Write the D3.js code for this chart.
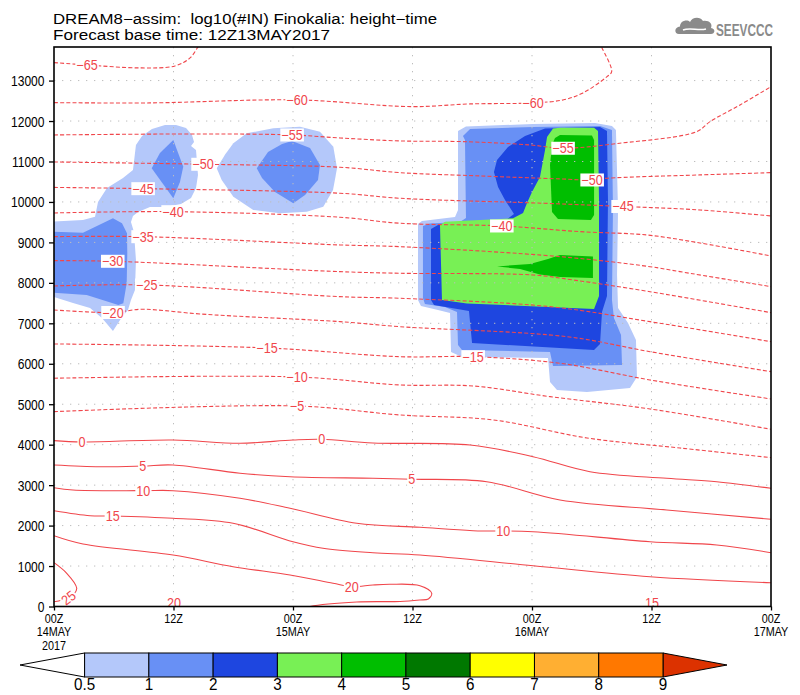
<!DOCTYPE html>
<html><head><meta charset="utf-8">
<script src="https://cdn.jsdelivr.net/npm/d3@7"></script>
<style>body{margin:0;background:#fff}svg{display:block;font-family:"Liberation Sans",Arial,sans-serif}</style>
</head><body><svg id="c" width="800" height="695"></svg>
<script>
// ---------------- data ----------------
const hourTicks = [0, 12, 24, 36, 48, 60, 72];
const hourTickLabels = [["00Z","14MAY","2017"],["12Z"],["00Z","15MAY"],["12Z"],["00Z","16MAY"],["12Z"],["00Z","17MAY"]];
const heightTicks = [0,1000,2000,3000,4000,5000,6000,7000,8000,9000,10000,11000,12000,13000];
const shadeLevels = [0.5, 1, 2, 3, 4, 5, 6, 7, 8, 9];
const shadeColors = ["#b4c8fa","#6890f5","#1e46e0","#78f055","#00be00","#007800","#ffff00","#ffaf32","#ff7800","#dc3200"];

// isotherm (temperature, degC) : [hour, height m]
const isotherms = [
 [-65, [[0,13444],[3.31,13387],[8.64,13313],[12.15,13362],[13.66,13560],[14.46,13832],[14.8,13950]]],
 [-60, [[0,12455],[9.64,12448],[24.4,12522],[35.92,12356],[41.78,12423],[48.1,12448],[51.11,12522],[53.12,12695],[55.53,13098],[56.0,13221],[55.0,13825],[54.8,13950]]],
 [-55, [[0,11656],[14.66,11681],[23.9,11656],[28.72,11582],[34.75,11508],[41.07,11491],[47.8,11409],[51.11,11328],[56.8,11451],[64.54,11738],[65.88,11985],[68.89,12398],[72,12850]]],
 [-50, [[0,10989],[14.96,10932],[28.72,10858],[34.75,10724],[42.78,10643],[50.81,10569],[54.03,10544],[55.53,10586],[64.87,10668],[72,10724]]],
 [-45, [[0,10359],[8.94,10329],[28.72,10215],[34.75,10091],[49.1,9968],[57.14,9889],[64.87,9802],[72,9654]]],
 [-40, [[0,9728],[11.95,9760],[28.72,9622],[34.75,9473],[44.96,9407],[52.82,9266],[59.52,9184],[64.87,8986],[72,8665]]],
 [-35, [[0,9142],[8.94,9142],[28.72,8937],[34.75,8895],[50.81,8648],[59.85,8400],[62.86,8277],[72,7906]]],
 [-30, [[0,8549],[5.89,8534],[28.72,8277],[34.75,8237],[48.1,8195],[52.12,8072],[59.85,7782],[72,7263]]],
 [-25, [[0,7923],[9.31,7948],[28.72,7659],[34.75,7619],[49.81,7412],[59.85,7041],[72,6546]]],
 [-20, [[0,7330],[5.92,7268],[8.64,7347],[10.34,7330],[14.66,7231],[28.72,7041],[34.75,6917],[51.48,6670],[59.85,6299],[72,5805]]],
 [-15, [[0,6490],[21.39,6391],[34.75,6175],[42.08,6175],[50.81,6012],[59.85,5600],[72,5130]]],
 [-10, [[0,5642],[24.4,5674],[34.75,5476],[42.08,5451],[49.81,5187],[59.85,4883],[72,4381]]],
 [-5,  [[0,4816],[24.4,4957],[34.75,4734],[44.11,4611],[53.52,4166],[62.86,3918],[72,3679]]],
 [0,   [[0,4099],[2.81,4067],[11.95,4116],[18.68,4035],[24.0,4116],[26.88,4133],[32.03,4042],[41.78,3993],[48.1,3703],[53.82,3332],[61.53,3169],[66.55,3085],[72,2922]]],
 [5,   [[0,3498],[4.62,3456],[8.9,3473],[11.95,3498],[18.68,3293],[23.7,3209],[32.03,3169],[35.92,3145],[43.45,3085],[50.81,2633],[61.53,2386],[72,2156]]],
 [10,  [[0,2937],[1.91,2880],[8.97,2863],[11.95,2863],[18.68,2675],[23.7,2428],[30.4,2057],[36.75,1958],[42.08,1874],[48.1,1849],[59.85,1602],[66.55,1520],[72,1330]]],
 [15,  [[0,2368],[3.62,2245],[5.89,2237],[11.95,2180],[17.98,2057],[24.0,1602],[27.01,1439],[32.03,1330],[36.75,1273],[48.1,1009],[59.85,737],[72,588]]],
 [20,  [[0,1750],[2.91,1545],[11.95,1273],[17.98,984],[23.7,779],[28.02,574],[29.9,489],[32.03,532],[33.74,549],[36.75,514],[37.93,326],[37.59,185],[36.75,161],[34.75,124],[30.4,111],[25.71,0],[24.7,-80]]],
 [25,  [[0,1083],[1.28,821],[2.28,457],[2.01,309],[0.8,161],[0,119]]]
];

// contour labels : [temperature, hour, height m, rotation]
const isoLabels = [
 [-65,3.31,13387,0],[-60,24.4,12522,0],[-60,48.1,12448,0],[-55,23.9,11656,0],[-55,51.11,11328,0],
 [-50,14.96,10932,0],[-50,54.03,10544,0],[-45,8.94,10329,0],[-45,57.14,9889,0],[-40,11.95,9760,0],
 [-40,44.96,9407,0],[-35,8.94,9142,0],[-30,5.89,8534,0],[-25,9.31,7948,0],[-20,5.92,7268,0],
 [-15,21.39,6391,0],[-15,42.08,6175,0],[-10,24.4,5674,0],[-5,24.4,4957,0],[0,2.81,4067,0],
 [0,26.88,4133,0],[5,8.9,3473,0],[5,35.92,3145,0],[10,8.97,2863,0],[10,45.12,1874,0],
 [15,5.89,2237,0],[20,29.9,489,0],[25,1.44,215,-38],[20,12.05,100,0],[15,60.05,100,0]
];

// log10(#IN) shaded regions : [lower bound, polygon of [hour, height m]]
const inRegions = [
 [0.5, [[0,9514],[2.91,9556],[4.12,9637],[4.42,10001],[5.32,10347],[6.93,10594],[7.93,10792],[8.23,11410],[8.84,11632],[9.84,11805],[11.15,11904],[12.25,11904],[13.26,11830],[13.86,11657],[14.06,11484],[13.76,11385],[14.26,11286],[14.46,10668],[14.26,10347],[13.76,10100],[12.75,9951],[11.15,9877],[9.64,9877],[8.44,9753],[7.93,9655],[7.73,9506],[8.03,9259],[8.23,8567],[8.13,7825],[7.73,7578],[7.43,7331],[6.83,7158],[5.92,6812],[4.82,7133],[3.62,7380],[1.91,7503],[0,7652]]],
 [1,   [[0,9266],[2.91,9241],[5.92,9597],[6.83,9473],[7.33,9226],[7.36,8732],[7.3,7990],[6.96,7496],[6.46,7454],[3.28,7701],[0,7758]]],
 [1,   [[11.98,11533],[12.98,10872],[12.65,10494],[11.98,10091],[9.81,10832],[10.64,11211]]],
 [0.5, [[16.34,10832],[17.2,11180],[18.01,11450],[19.35,11697],[22.02,11821],[24.7,11861],[26.71,11737],[28.05,11366],[28.42,10832],[28.02,10296],[27.04,9884],[25.38,9760],[22.69,9720],[20.01,9802],[18.01,10131],[16.84,10544]]],
 [1,   [[20.36,10832],[21.49,11236],[22.9,11434],[23.9,11508],[25.71,11335],[26.71,10915],[26.51,10544],[25.21,10173],[24.03,9967],[22.19,10247],[20.89,10594]]],
 [0.5, [[40.57,11755],[41.37,11866],[48.1,11928],[54.33,11953],[56.03,11879],[56.43,11780],[56.64,9802],[56.54,8196],[56.64,7380],[57.64,7009],[58.44,6589],[58.54,5674],[57.84,5402],[53.52,5303],[50.51,5353],[49.81,5550],[49.61,6143],[40.97,6168],[39.87,6292],[39.77,7256],[38.56,7330],[36.85,7429],[36.55,7577],[36.55,9456],[36.95,9531],[40.27,9629],[40.57,9802]]],
 [1,   [[41.07,11632],[41.78,11805],[48.1,11854],[54.83,11879],[56.03,11780],[56.13,9802],[56.03,7577],[56.23,7133],[56.94,6712],[57.04,5970],[50.11,5946],[49.81,6292],[40.97,6341],[40.57,6465],[40.47,7281],[39.26,7404],[37.25,7478],[37.05,7627],[37.05,9407],[37.76,9469],[40.77,9506],[41.37,9605],[41.27,11533]]],
 [2,   [[44.18,10742],[44.49,11039],[45.59,11360],[47.3,11632],[49.31,11817],[54.83,11854],[55.53,11755],[55.63,10050],[55.53,7676],[55.03,7281],[54.83,6490],[54.23,6341],[41.98,6514],[41.67,7305],[38.16,7454],[37.86,7577],[37.86,9333],[38.56,9432],[45.29,9531],[46.19,9704],[45.29,10050],[44.59,10371]]],
 [3,   [[50.11,11817],[50.81,11834],[54.23,11834],[54.63,11755],[54.73,10050],[54.73,7676],[54.23,7355],[41.47,7491],[38.96,7577],[38.76,9432],[39.26,9513],[46.09,9597],[47.1,9728],[47.5,9976],[48.0,10248],[48.8,10619],[49.31,11286],[49.51,11607]]],
 [4,   [[50.81,11656],[54.02,11644],[54.23,11533],[54.23,9679],[53.92,9555],[50.61,9580],[50.01,9753],[49.81,10915],[50.01,11409],[50.31,11582]]],
 [4,   [[44.49,8406],[47.8,8468],[49.61,8591],[50.81,8690],[54.12,8653],[54.12,8121],[50.81,8146],[48.8,8208],[46.8,8344]]]
];

// ---------------- drawing ----------------
const svg = d3.select("#c");
const L = 54, R = 771, T = 47, B = 606.5;
const x = d3.scaleLinear().domain([0, 72]).range([L, R]);
const y = d3.scaleLinear().domain([0, 13830]).range([B, T]);
const RED = "#f0464b";
const FONT = '"Liberation Sans",Arial,sans-serif';

function condense(sel, r) {
  sel.each(function () {
    const w = this.getComputedTextLength();
    d3.select(this).attr("textLength", w * r).attr("lengthAdjust", "spacingAndGlyphs");
  });
}

svg.append("defs").append("clipPath").attr("id", "clip")
  .append("rect").attr("x", L).attr("y", T).attr("width", R - L).attr("height", B - T);

const plot = svg.append("g").attr("clip-path", "url(#clip)");

// shading
const poly = d3.line().x(d => x(d[0])).y(d => y(d[1])).curve(d3.curveLinearClosed);
inRegions.slice().sort((a, b) => a[0] - b[0]).forEach(([lv, pts]) => {
  plot.append("path").attr("d", poly(pts))
    .attr("fill", shadeColors[shadeLevels.indexOf(lv)]).attr("stroke", "none");
});

// grid
plot.selectAll(".gh").data(heightTicks.filter(v => v > 0)).join("line")
  .attr("x1", L).attr("x2", R).attr("y1", d => y(d)).attr("y2", d => y(d))
  .attr("stroke", "#bdbdbd").attr("stroke-width", 1).attr("stroke-dasharray", "1.3,6.7");
plot.selectAll(".gv").data(hourTicks.filter(v => v > 0 && v < 72)).join("line")
  .attr("y1", T).attr("y2", B).attr("x1", d => x(d)).attr("x2", d => x(d))
  .attr("stroke", "#bdbdbd").attr("stroke-width", 1).attr("stroke-dasharray", "1.3,6.7");

// isotherms
const iso = d3.line().x(d => x(d[0])).y(d => y(d[1])).curve(d3.curveCatmullRom.alpha(0.5));
isotherms.forEach(([t, pts]) => {
  plot.append("path").attr("d", iso(pts)).attr("fill", "none")
    .attr("stroke", RED).attr("stroke-width", 1.1)
    .attr("stroke-dasharray", t < 0 ? "4,2.2" : null);
});

// contour labels
isoLabels.forEach(([t, h, m, rot]) => {
  const g = plot.append("g").attr("transform", `translate(${x(h)},${y(m)}) rotate(${rot})`);
  const txt = g.append("text").text(t < 0 ? "\u2212" + Math.abs(t) : String(t))
    .attr("text-anchor", "middle").attr("dy", "0.36em")
    .attr("font-size", 14).attr("font-family", FONT).attr("fill", RED);
  condense(txt, 0.9);
  const bb = txt.node().getBBox();
  g.insert("rect", "text").attr("x", bb.x - 1).attr("y", bb.y + 1.5)
    .attr("width", bb.width + 2).attr("height", bb.height - 3).attr("fill", "#fff");
});

// frame
svg.append("rect").attr("x", L).attr("y", T).attr("width", R - L).attr("height", B - T)
  .attr("fill", "none").attr("stroke", "#000").attr("stroke-width", 1.6);

// y axis
const ya = svg.append("g").attr("transform", `translate(${L},0)`)
  .call(d3.axisLeft(y).tickValues(heightTicks).tickSize(5).tickPadding(4.5).tickFormat(d3.format("d")));
ya.select(".domain").remove();
ya.selectAll(".tick line").attr("stroke", "#000").attr("stroke-width", 1.3);
ya.selectAll(".tick text").attr("font-size", 14).attr("font-family", FONT).attr("fill", "#000")
  .attr("dy", "0.36em");
condense(ya.selectAll(".tick text"), 0.86);

// x axis
const xa = svg.append("g").attr("transform", `translate(0,${B})`)
  .call(d3.axisBottom(x).tickValues(hourTicks).tickSize(4).tickFormat(""));
xa.select(".domain").remove();
xa.selectAll(".tick line").attr("stroke", "#000").attr("stroke-width", 1.3);
hourTicks.forEach((h, i) => {
  const t = svg.append("text").attr("font-size", 12).attr("font-family", FONT).attr("text-anchor", "middle");
  hourTickLabels[i].forEach((s, j) => {
    const ts = t.append("tspan").attr("x", x(h)).attr("y", 622.5 + j * 13.5).text(s);
    condense(ts, 0.9);
  });
});

// title
const t1 = svg.append("text").attr("x", 53).attr("y", 24).attr("font-size", 14)
  .attr("font-family", FONT).style("white-space", "pre")
  .text("DREAM8\u2212assim:  log10(#IN) Finokalia: height\u2212time");
t1.attr("textLength", 384).attr("lengthAdjust", "spacingAndGlyphs");
const t2 = svg.append("text").attr("x", 53).attr("y", 40).attr("font-size", 14)
  .attr("font-family", FONT).text("Forecast base time: 12Z13MAY2017");
t2.attr("textLength", 277).attr("lengthAdjust", "spacingAndGlyphs");

// logo
const logo = svg.append("g");
logo.append("path")
  .attr("d", "M679,34 C674,34 674,27 680,26.5 C680,21 687,19 690,22 C692,17 700,16 703,21 C709,20 713,24 711,28 C716,29 715,34 711,34 Z")
  .attr("fill", "#8a8a8a");
logo.append("path").attr("d", "M683,30 C690,27 698,31 706,29").attr("stroke", "#fff").attr("stroke-width", 1.6).attr("fill", "none");
logo.append("text").attr("x", 716).attr("y", 36).text("SEEVCCC")
  .attr("font-size", 17).attr("font-weight", "bold").attr("font-family", FONT).attr("fill", "#8a8a8a")
  .attr("textLength", 57).attr("lengthAdjust", "spacingAndGlyphs");

// colorbar
const cb = d3.scaleLinear().domain([0, 9]).range([84.6, 663]);
const cbT = 653, cbB = 677, cbM = (cbT + cbB) / 2;
svg.append("path").attr("d", `M20,${cbM} L${cb(0)},${cbT} L${cb(0)},${cbB} Z`)
  .attr("fill", "#fff").attr("stroke", "#000").attr("stroke-width", 1);
svg.append("path").attr("d", `M${cb(9)},${cbT} L727,${cbM} L${cb(9)},${cbB} Z`)
  .attr("fill", shadeColors[9]).attr("stroke", "#000").attr("stroke-width", 1);
svg.selectAll(".cbbox").data(d3.range(9)).join("rect")
  .attr("x", i => cb(i)).attr("y", cbT).attr("width", i => cb(i + 1) - cb(i)).attr("height", cbB - cbT)
  .attr("fill", i => shadeColors[i]).attr("stroke", "#000").attr("stroke-width", 1);
shadeLevels.forEach((v, i) => {
  const t = svg.append("text").attr("x", cb(i)).attr("y", 690).text(String(v))
    .attr("text-anchor", "middle").attr("font-size", 16).attr("font-family", FONT);
  condense(t, 0.95);
});
</script></body></html>
